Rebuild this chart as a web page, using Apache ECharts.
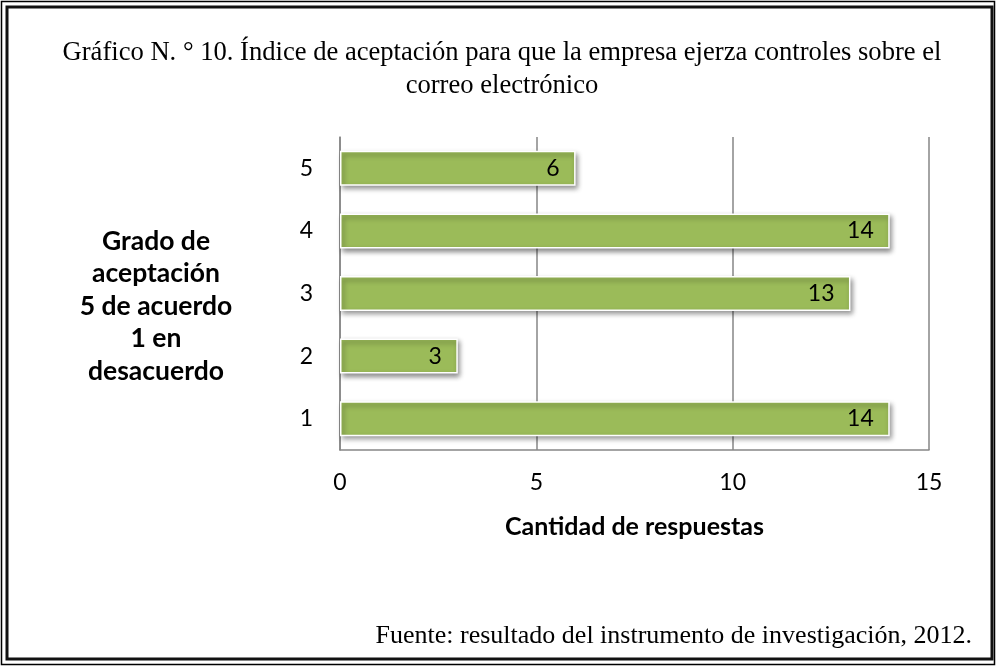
<!DOCTYPE html>
<html>
<head>
<meta charset="utf-8">
<script src="https://cdn.jsdelivr.net/npm/echarts@6/dist/echarts.min.js"></script>
<style>
  html, body { margin: 0; padding: 0; background: #fff; }
  #chart { width: 996px; height: 666px; }
</style>
</head>
<body>
<div id="chart"></div>
<script>
// datos del gráfico
var categorias = ['1', '2', '3', '4', '5']
var respuestas = [14, 3, 13, 14, 6]
var ticksX = [0, 5, 10, 15]

var titulo = 'Gráfico N. ° 10. Índice de aceptación para que la empresa ejerza controles sobre el\ncorreo electrónico'
var nombreY = 'Grado de\naceptación\n5 de acuerdo\n1 en\ndesacuerdo'
var nombreX = 'Cantidad de respuestas'
var fuente = 'Fuente: resultado del instrumento de investigación, 2012.'

var sans = 'Lato, "Open Sans", sans-serif'
var serif = '"Liberation Serif", "DejaVu Serif", serif'

let chart = echarts.init(document.getElementById('chart'))

let option = {
  animation: false,
  backgroundColor: '#fff',
  title: {
    text: titulo,
    left: 497,
    top: 32,
    textAlign: 'center',
    textStyle: {
      fontFamily: serif,
      fontSize: 26.6,
      fontWeight: 'normal',
      color: '#000',
      lineHeight: 32.5
    }
  },
  grid: {
    left: 340,
    right: 67,
    top: 137,
    bottom: 216
  },
  xAxis: {
    type: 'value',
    min: ticksX[0],
    max: ticksX[ticksX.length - 1],
    interval: 5,
    name: nombreX,
    nameLocation: 'middle',
    nameGap: 64,
    nameTextStyle: {
      fontFamily: sans,
      fontSize: 25,
      fontWeight: 'bold',
      color: '#000'
    },
    axisLine: { show: true, lineStyle: { color: '#868686', width: 1.5 } },
    axisTick: { show: false },
    axisLabel: {
      margin: 21,
      fontFamily: sans,
      fontSize: 23,
      color: '#000'
    },
    splitLine: { show: true, lineStyle: { color: '#868686', width: 1.5 } }
  },
  yAxis: {
    type: 'category',
    data: categorias,
    axisLine: { show: true, lineStyle: { color: '#868686', width: 1.5 } },
    axisTick: { show: false },
    axisLabel: {
      margin: 27,
      fontFamily: sans,
      fontSize: 23,
      color: '#000'
    }
  },
  series: [{
    type: 'bar',
    data: respuestas,
    barWidth: 35,
    itemStyle: {
      color: '#9BBB59',
      borderColor: '#fff',
      borderWidth: 1.5,
      shadowColor: 'rgba(0,0,0,0.45)',
      shadowBlur: 5,
      shadowOffsetX: 2,
      shadowOffsetY: 3
    },
    label: {
      show: true,
      position: 'insideRight',
      distance: 16,
      fontFamily: sans,
      fontSize: 23,
      color: '#000'
    }
  }],
  graphic: [
    // marco doble
    {
      type: 'rect',
      shape: { x: 1.5, y: 1.5, width: 993, height: 663 },
      style: { fill: 'none', stroke: '#000', lineWidth: 1.5 },
      silent: true
    },
    {
      type: 'rect',
      shape: { x: 7, y: 7, width: 985, height: 652 },
      style: { fill: 'none', stroke: '#111', lineWidth: 3 },
      silent: true
    },
    // nombre del eje Y, centrado
    {
      type: 'text',
      x: 156,
      y: 225,
      style: {
        text: nombreY,
        align: 'center',
        verticalAlign: 'top',
        fontFamily: sans,
        fontSize: 26.5,
        fontWeight: 'bold',
        fill: '#000',
        lineHeight: 32.5
      }
    },
    {
      type: 'text',
      x: 972,
      y: 636,
      style: {
        text: fuente,
        align: 'right',
        verticalAlign: 'middle',
        fontFamily: serif,
        fontSize: 26,
        fill: '#000'
      }
    }
  ]
}

chart.setOption(option)
</script>
</body>
</html>
